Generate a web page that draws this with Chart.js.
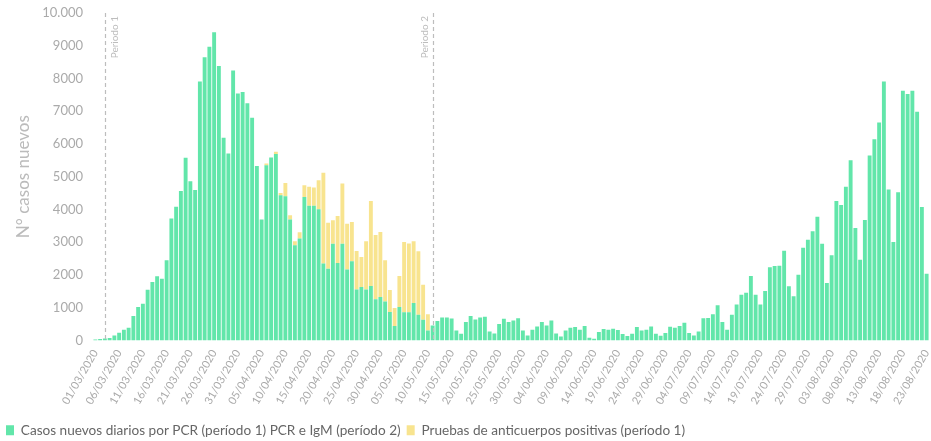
<!DOCTYPE html>
<html>
<head>
<meta charset="utf-8">
<script src="https://cdn.jsdelivr.net/npm/chart.js@4/dist/chart.umd.min.js"></script>
<style>
  html, body { margin: 0; padding: 0; background: #fff; }
  #wrap { width: 931px; height: 441px; position: relative; }
</style>
</head>
<body>
<div id="wrap"><canvas id="chart"></canvas></div>
<script>
// daily series, one value per day starting 01/03/2020
const startDay = new Date(2020, 2, 1);

const pcrCases = [
  30, 40, 55, 70, 150, 235, 325, 390, 745, 1020,
  1120, 1550, 1785, 1960, 1885, 2450, 3720, 4080, 4565, 5575,
  4860, 4590, 7910, 8645, 8970, 9410, 8380, 6190, 5710, 8240,
  7540, 7590, 7240, 6800, 5330, 3690, 5350, 5590, 5690, 4435,
  4400, 3690, 2905, 3110, 4380, 4110, 4110, 4005, 2345, 2190,
  2955, 2365, 2955, 2165, 2415, 1555, 1630, 1555, 1665, 1255,
  1325, 1190, 866, 437, 1020, 856, 856, 1141, 785, 632,
  306, 458, 590, 703, 703, 670, 306, 204, 560, 744,
  642, 703, 723, 275, 214, 499, 662, 560, 611, 673,
  306, 153, 326, 428, 560, 458, 611, 214, 122, 306,
  387, 408, 326, 438, 82, 51, 255, 346, 326, 357,
  316, 194, 132, 204, 408, 306, 326, 428, 204, 143,
  224, 418, 387, 438, 540, 224, 153, 275, 673, 683,
  795, 1070, 560, 326, 785, 1100, 1396, 1457, 1967, 1396,
  1100, 1508, 2232, 2272, 2283, 2741, 1651, 1345, 2007, 2833,
  3077, 3332, 3780, 2955, 1753, 2600, 4260, 4138, 4690, 5505,
  3435, 2467, 3680, 5648, 6147, 6657, 7911, 4608, 3007, 4526,
  7625, 7523, 7625, 6982, 4077, 2039
];

const antibodyCases = [
  0, 0, 0, 0, 0, 0, 0, 0, 0, 0,
  0, 0, 0, 0, 0, 0, 0, 0, 0, 0,
  0, 0, 0, 0, 0, 0, 0, 0, 0, 0,
  0, 0, 0, 0, 0, 0, 50, 0, 70, 70,
  410, 130, 125, 190, 360, 580, 560, 885, 2775, 1400,
  715, 1435, 1835, 1400, 1205, 1175, 920, 1470, 2595, 1965,
  1985, 1255, 670, 551, 947, 2150, 2100, 1886, 1935, 1068,
  489, 0, 0, 0, 0, 0, 0, 0, 0, 0
];

const tickLabels = [
  '01/03/2020', '06/03/2020', '11/03/2020', '16/03/2020', '21/03/2020', '26/03/2020',
  '31/03/2020', '05/04/2020', '10/04/2020', '15/04/2020', '20/04/2020', '25/04/2020',
  '30/04/2020', '05/05/2020', '10/05/2020', '15/05/2020', '20/05/2020', '25/05/2020',
  '30/05/2020', '04/06/2020', '09/06/2020', '14/06/2020', '19/06/2020', '24/06/2020',
  '29/06/2020', '04/07/2020', '09/07/2020', '14/07/2020', '19/07/2020', '24/07/2020',
  '29/07/2020', '03/08/2020', '08/08/2020', '13/08/2020', '18/08/2020', '23/08/2020'
];

const periodMarks = [
  { day: '03/03/2020', text: 'Periodo 1', side: 1 },
  { day: '11/05/2020', text: 'Periodo 2', side: -1 }
];

function pad2(n) { return String(n).padStart(2, '0'); }

const days = pcrCases.map((v, i) => {
  const d = new Date(startDay.getTime());
  d.setDate(d.getDate() + i);
  return pad2(d.getDate()) + '/' + pad2(d.getMonth() + 1) + '/' + d.getFullYear();
});

const antibodyFull = days.map((d, i) => antibodyCases[i] || 0);

const periodLines = {
  id: 'periodLines',
  afterDatasetsDraw(chart) {
    const { ctx, chartArea, scales } = chart;
    for (const m of periodMarks) {
      const x = Math.round(scales.x.getPixelForValue(days.indexOf(m.day))) + 0.5;
      ctx.save();
      ctx.strokeStyle = '#bdbdbd';
      ctx.lineWidth = 1.2;
      ctx.setLineDash([4, 3]);
      ctx.beginPath();
      ctx.moveTo(x, chartArea.top);
      ctx.lineTo(x, chartArea.bottom);
      ctx.stroke();
      ctx.setLineDash([]);
      ctx.translate(x + m.side * 9, chartArea.top + 3);
      ctx.rotate(-Math.PI / 2);
      ctx.fillStyle = '#bdbdbd';
      ctx.font = '10px Lato';
      ctx.textAlign = 'right';
      ctx.textBaseline = 'middle';
      ctx.fillText(m.text, 0, 0);
      ctx.restore();
    }
  }
};

new Chart(document.getElementById('chart'), {
  type: 'bar',
  data: {
    labels: days,
    datasets: [
      {
        label: 'Casos nuevos diarios por PCR (período 1) PCR e IgM (período 2)',
        data: pcrCases,
        backgroundColor: '#62e6aa',
        barPercentage: 0.82,
        categoryPercentage: 1
      },
      {
        label: 'Pruebas de anticuerpos positivas (período 1)',
        data: antibodyFull,
        backgroundColor: '#f8e48f',
        barPercentage: 0.82,
        categoryPercentage: 1
      }
    ]
  },
  options: {
    responsive: true,
    maintainAspectRatio: false,
    animation: false,
    layout: { padding: { top: 13, right: 2, left: 0, bottom: -6 } },
    plugins: {
      tooltip: { enabled: false },
      legend: {
        position: 'bottom',
        align: 'start',
        labels: {
          boxWidth: 8,
          boxHeight: 10,
          padding: 6,
          color: '#666',
          font: { family: 'Lato', size: 13.6 }
        }
      }
    },
    scales: {
      x: {
        stacked: true,
        grid: { display: false, drawTicks: false },
        border: { display: false },
        ticks: {
          autoSkip: false,
          minRotation: 60,
          maxRotation: 60,
          padding: 7,
          color: '#aaa',
          font: { family: 'Lato', size: 11 },
          callback(value) {
            const lbl = this.getLabelForValue(value);
            return tickLabels.includes(lbl) ? lbl : '';
          }
        },
        afterFit(scale) {
          scale.height = 77;
          scale.paddingLeft = 0;
          scale.paddingRight = 0;
        }
      },
      y: {
        stacked: true,
        min: 0,
        max: 10000,
        grid: { display: false, drawTicks: false },
        border: { display: false },
        ticks: {
          stepSize: 1000,
          padding: 10,
          color: '#aaa',
          font: { family: 'Lato', size: 13 },
          callback(v) { return v === 10000 ? '10.000' : String(v); }
        },
        title: {
          display: true,
          text: 'N° casos nuevos',
          color: '#bbb',
          padding: { top: 13, bottom: 0 },
          font: { family: 'Lato', size: 17 }
        },
        afterFit(scale) {
          scale.width = 93;
          scale.paddingTop = 0;
          scale.paddingBottom = 0;
        }
      }
    }
  },
  plugins: [periodLines]
});
</script>
</body>
</html>
